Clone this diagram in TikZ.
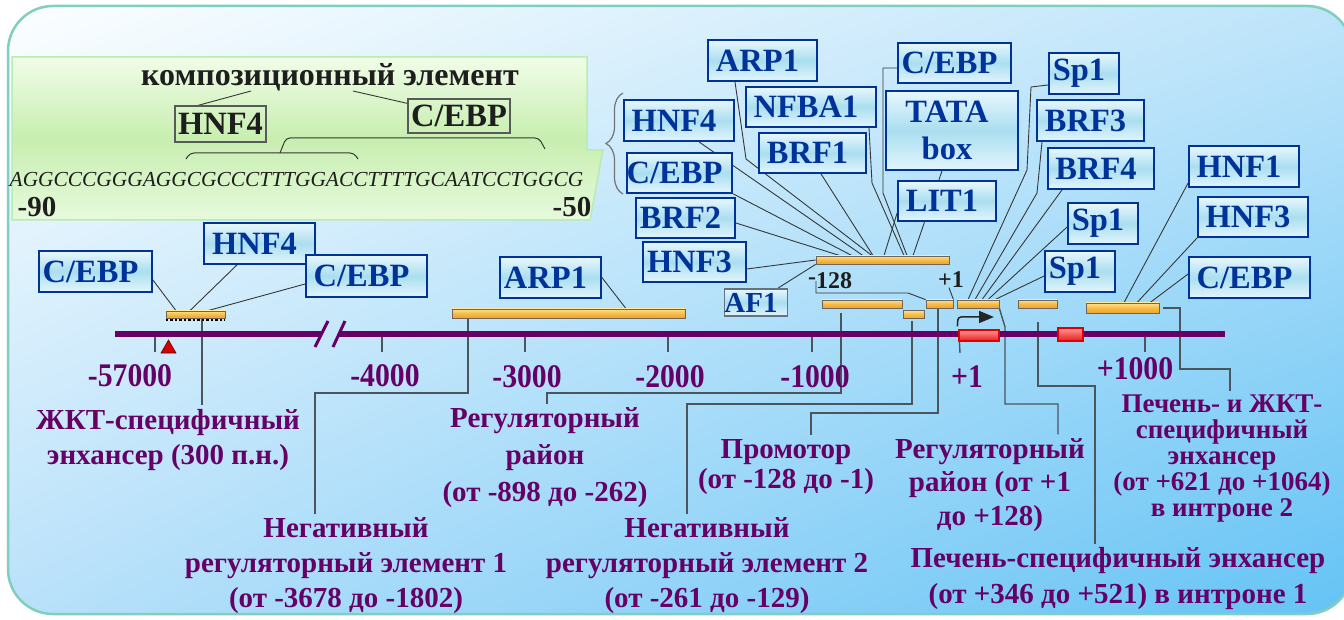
\documentclass[tikz,border=0pt]{standalone}
\usepackage{fontspec}
\setmainfont{Liberation Serif}
\newfontfamily\axfam[FakeStretch=0.9]{Liberation Serif}
\usetikzlibrary{arrows.meta,decorations.pathreplacing,shadings}
\definecolor{cblue}{RGB}{0,51,153}
\definecolor{lbtop}{RGB}{232,247,253}
\definecolor{lbmid}{RGB}{170,222,240}
\definecolor{lbbot}{RGB}{226,245,252}
\definecolor{cpurple}{RGB}{102,0,102}
\definecolor{bartop}{RGB}{253,226,140}
\definecolor{barmid}{RGB}{246,186,72}
\definecolor{barbot}{RGB}{236,165,45}
\definecolor{barline}{RGB}{110,100,90}
\definecolor{leadc}{RGB}{55,55,55}
\definecolor{connc}{RGB}{75,85,92}
\definecolor{framec}{RGB}{128,206,190}
\definecolor{gtop}{RGB}{240,253,232}
\definecolor{gmid}{RGB}{200,238,176}
\definecolor{gbot}{RGB}{230,250,220}
\definecolor{gline}{RGB}{184,236,176}
\definecolor{exred}{RGB}{228,30,30}
\definecolor{exlight}{RGB}{255,150,150}
\definecolor{exline}{RGB}{225,0,0}
\definecolor{txtdark}{RGB}{30,30,30}
\definecolor{bgUL}{RGB}{252,254,255}
\definecolor{bgUR}{RGB}{190,228,250}
\definecolor{bgLL}{RGB}{185,225,250}
\definecolor{bgLR}{RGB}{100,195,245}
\definecolor{trired}{RGB}{210,0,0}
\definecolor{af1line}{RGB}{100,115,130}
\newcommand\LabFont{\fontsize{32.5}{37}\selectfont\bfseries}
\newcommand\AxFont{\axfam\fontsize{33}{36}\selectfont\bfseries}
\pgfdeclarelayer{bglayer}
\pgfdeclarelayer{linelayer}
\pgfsetlayers{bglayer,linelayer,main}
\begin{document}
\begin{tikzpicture}[x=1pt,y=-1pt,
 lbl/.style={draw=cblue, line width=1.8pt, top color=lbtop, bottom color=lbbot, middle color=lbmid, text=cblue, font=\LabFont, inner sep=0pt, execute at end node={\kern10pt}},
 gbx/.style={draw=black!65, line width=1.2pt, text=txtdark, font=\LabFont, inner sep=0pt},
 orbar/.style={draw=barline, line width=0.8pt, top color=bartop, bottom color=barbot, middle color=barmid, inner sep=0pt},
 exbox/.style={draw=exline, line width=1.2pt, top color=exlight, bottom color=exred, inner sep=0pt},
 lead/.style={draw=leadc, line width=0.9pt},
 conn/.style={draw=connc, line width=1.4pt},
 tk/.style={draw=connc, line width=1.4pt},
 axisl/.style={draw=cpurple, line width=5.5pt},
 ptext/.style={text=cpurple, align=center, inner sep=0pt, outer sep=4pt},
 axlab/.style={text=cpurple, font=\AxFont, inner sep=0pt},
 num/.style={text=txtdark, font=\fontsize{29}{32}\selectfont\bfseries, inner sep=0pt},
 small/.style={text=txtdark, font=\fontsize{24}{28}\selectfont\bfseries, inner sep=0pt}
]
\useasboundingbox (0,0) rectangle (1344,620);
\begin{pgfonlayer}{bglayer}
 \shade[upper left=bgUL, upper right=bgUR, lower left=bgLL, lower right=bgLR, rounded corners=45pt] (8,6) rectangle (1352,614);
 \draw[framec, line width=2.5pt, rounded corners=45pt] (8,6) rectangle (1352,614);
 \shade[top color=gtop, bottom color=gbot, middle color=gmid] (12,57) -- (587,57) -- (587,150) -- (603,150) -- (590,220) -- (12,220) -- cycle;
 \draw[gline, line width=1.5pt] (12,57) -- (587,57) -- (587,150) -- (603,150) -- (590,220) -- (12,220) -- cycle;
\end{pgfonlayer}

% ---- green box content
\node[font=\fontsize{32}{36}\selectfont\bfseries, text=txtdark, inner sep=0pt] (comp) at (330,77) {композиционный элемент};
\node[gbx, minimum width=91pt, minimum height=36pt] (hnf4g) at (220.5,124) {HNF4};
\node[gbx, minimum width=102pt, minimum height=34pt] (cebpg) at (459,116) {C/EBP};
\node[font=\fontsize{21.4}{24}\selectfont\itshape, text=txtdark, inner sep=0pt] (seq) at (296.5,180) {AGGCCCGGGAGGCGCCCTTTGGACCTTTTGCAATCCTGGCG};
\node[num] (m90) at (37,207) {-90};
\node[num] (m50) at (572,207) {-50};
\draw[leadc, line width=1pt, rounded corners=4pt] (186,159) -- (190,153) -- (354,153) -- (358,159);
\draw[leadc, line width=1pt, rounded corners=4pt] (280,153) -- (286,138) -- (539,138) -- (545,149);
\draw[black!55, line width=1.2pt, decorate, decoration={brace, amplitude=17pt}] (623,194) -- (623,93);

% ---- axis
\draw[axisl] (115,334) -- (321.5,334);
\draw[axisl] (339,334) -- (1225,334);
\draw[cpurple, line width=3pt] (315,347) -- (328,321);
\draw[cpurple, line width=3pt] (333,347) -- (345,321);
\foreach \x in {155,382,525,668,812,1145} \draw[tk] (\x,337) -- (\x,352);
\fill[trired, draw=black!60!red, line width=0.6pt] (161,353) -- (176,353) -- (168.5,340) -- cycle;

\node[axlab] (a57) at (130,376) {-57000};
\node[axlab] (a4) at (385,376) {-4000};
\node[axlab] (a3) at (527,377) {-3000};
\node[axlab] (a2) at (670,377) {-2000};
\node[axlab] (a1) at (815,377) {-1000};
\node[axlab] (ap1) at (967,377) {+1};
\node[axlab] (ap1000) at (1135,369) {+1000};

% ---- exons and arrow
\node[exbox, minimum width=40pt, minimum height=11pt] (ex1) at (979,335.5) {};
\node[exbox, minimum width=25pt, minimum height=13pt] (ex2) at (1070.5,334.5) {};
\draw[tk] ([xshift=1pt]ex1.south west) -- (960,353);
\draw[black!85, line width=1.5pt, rounded corners=3pt, -{Triangle[length=15pt,width=12pt]}] ([xshift=-1pt,yshift=3pt]ex1.north west) -- (958,317) -- (994,317);

% ---- bars
\node[orbar, minimum width=133pt, minimum height=8pt] (barUp) at (882.5,260) {};
\node[orbar, minimum width=80pt, minimum height=8pt] (barA) at (862,304) {};
\node[orbar, minimum width=21pt, minimum height=8pt] (barB) at (913.5,314.5) {};
\node[orbar, minimum width=27pt, minimum height=8pt] (barC) at (939.5,304) {};
\node[orbar, minimum width=42pt, minimum height=8pt] (barD) at (978,304) {};
\node[orbar, minimum width=39pt, minimum height=8pt] (barE) at (1037.5,304) {};
\node[orbar, minimum width=73pt, minimum height=10pt] (barF) at (1122.5,308) {};
\node[orbar, minimum width=233pt, minimum height=9pt] (barArp) at (568.5,313.5) {};
\node[orbar, minimum width=59pt, minimum height=7pt] (barG) at (195.5,314.5) {};
\draw[black, line width=2pt, dash pattern=on 2.5pt off 2pt] ([yshift=-1.5pt]barG.south west) -- ([yshift=-1.5pt]barG.south east);

\node[small] (n128) at (830,281) {\raisebox{4pt}{-}128};
\node[small] (np1) at (951,279.5) {+1};

% ---- top cluster labels
\node[lbl, minimum width=109pt, minimum height=41pt] (arp1t) at (762.5,60.5) {ARP1};
\node[lbl, minimum width=130pt, minimum height=40pt] (nfba1) at (811,107) {NFBA1};
\node[lbl, minimum width=113pt, minimum height=40pt] (cebpt) at (954.5,63) {C/EBP};
\node[lbl, minimum width=132pt, minimum height=79pt, align=center, font=\fontsize{32.5}{37}\selectfont\bfseries, execute at end node={}] (tata) at (952,130.5) {TATA\\box};
\node[lbl, minimum width=110pt, minimum height=41pt] (hnf4t) at (679,120.5) {HNF4};
\node[lbl, minimum width=107pt, minimum height=40pt] (brf1) at (812.5,153) {BRF1};
\node[lbl, minimum width=105pt, minimum height=40pt] (cebpl) at (679.5,173) {C/EBP};
\node[lbl, minimum width=98pt, minimum height=40pt] (lit1) at (947,201) {LIT1};
\node[lbl, minimum width=99pt, minimum height=40pt] (brf2) at (685.5,218) {BRF2};
\node[lbl, minimum width=103pt, minimum height=40pt] (hnf3t) at (694.5,262) {HNF3};
\node[lbl, draw=af1line, minimum width=62pt, minimum height=27pt, font=\fontsize{29}{32}\selectfont\bfseries, execute at end node={}] (af1) at (756,302.5) {AF1};

% ---- right cluster labels
\node[lbl, minimum width=70pt, minimum height=41pt, execute at end node={}] (sp1a) at (1084,73.5) {Sp1};
\node[lbl, minimum width=107pt, minimum height=41pt] (brf3) at (1090.5,120.5) {BRF3};
\node[lbl, minimum width=106pt, minimum height=41pt] (brf4) at (1101,168.5) {BRF4};
\node[lbl, minimum width=110pt, minimum height=41pt] (hnf1) at (1244,166.5) {HNF1};
\node[lbl, minimum width=110pt, minimum height=40pt] (hnf3r) at (1253,217) {HNF3};
\node[lbl, minimum width=70pt, minimum height=41pt, execute at end node={}] (sp1b) at (1103,223.5) {Sp1};
\node[lbl, minimum width=70pt, minimum height=41pt, execute at end node={}] (sp1c) at (1080,271.5) {Sp1};
\node[lbl, minimum width=121pt, minimum height=41pt] (cebpr) at (1249.5,277.5) {C/EBP};

% ---- left cluster labels
\node[lbl, minimum width=113pt, minimum height=41pt, execute at end node={}] (cebpa) at (95.5,271.5) {C/EBP};
\node[lbl, minimum width=111pt, minimum height=41pt] (hnf4a) at (259.5,243.5) {HNF4};
\node[lbl, minimum width=121pt, minimum height=42pt] (cebpb) at (366.5,276) {C/EBP};
\node[lbl, minimum width=101pt, minimum height=41pt] (arp1b) at (550.5,277.5) {ARP1};

% ---- bottom labels
\node[ptext, font=\fontsize{29}{35}\selectfont\bfseries] (gkt) at (168,440) {ЖКТ-специфичный\\энхансер (300 п.н.)};
\node[ptext, font=\fontsize{29}{35}\selectfont\bfseries] (neg1) at (346,566) {Негативный\\регуляторный элемент 1\\(от -3678 до -1802)};
\node[ptext, font=\fontsize{29}{37}\selectfont\bfseries] (reg1) at (545,458) {Регуляторный\\район\\(от -898 до -262)};
\node[ptext, font=\fontsize{29}{35}\selectfont\bfseries] (neg2) at (707,566) {Негативный\\регуляторный элемент 2\\(от -261 до -129)};
\node[ptext, font=\fontsize{29}{30}\selectfont\bfseries] (prom) at (786,467) {Промотор\\(от -128 до -1)};
\node[ptext, font=\fontsize{29}{33.5}\selectfont\bfseries] (reg2) at (990,485) {Регуляторный\\район (от +1\\до +128)};
\node[ptext, font=\fontsize{29}{36}\selectfont\bfseries] (liv1) at (1118,579) {Печень-специфичный энхансер\\(от +346 до +521) в интроне 1};
\node[ptext, font=\fontsize{27}{26}\selectfont\bfseries] (liv2) at (1222,459) {Печень- и ЖКТ-\\специфичный\\энхансер\\(от +621 до +1064)\\в интроне 2};

% ---- connectors
\begin{pgfonlayer}{linelayer}
 \draw[lead] ([xshift=-79pt]comp.south) -- ([xshift=-22.5pt]hnf4g.north);
 \draw[lead] ([xshift=23pt]comp.south) -- ([yshift=-5pt]cebpg.north west);
 % top cluster
 \draw[lead] ([xshift=-27.5pt]arp1t.south) -- (746,159) -- ([xshift=-10.5pt]barUp.north);
 \draw[lead] ([xshift=20pt]hnf4t.south) -- ([xshift=-19.5pt]barUp.north);
 \draw[lead] (cebpl.south east) -- ([xshift=-30.5pt]barUp.north);
 \draw[lead] ([yshift=-5pt]brf2.east) -- ([xshift=-42.5pt]barUp.north);
 \draw[lead] ([yshift=-7pt]hnf3t.east) -- (barUp.west);
 \draw[lead] ([xshift=22pt]af1.north) -- (barUp.south west);
 \draw[lead] ([xshift=8.5pt]brf1.south) -- ([xshift=-9.5pt]barUp.north);
 \draw[lead] ([xshift=58pt]nfba1.south) -- (872,183) -- ([xshift=21.5pt]barUp.north);
 \draw[lead] ([yshift=-5pt]cebpt.west) -- (883,68) -- (883,193) -- ([xshift=24.5pt]barUp.north);
 \draw[lead] ([xshift=-10pt]tata.south) -- ([xshift=30.5pt]barUp.north);
 \draw[lead] ([yshift=-12pt]lit1.west) -- ([xshift=1.5pt]barUp.north);
 \coordinate (k1) at (816,293);
 \draw[lead] (n128.west -| k1) -- (k1) -- (908,293) -- (barC.north west);
 \draw[lead] ([xshift=-2pt]np1.south) -- (barC.north east);
 % right cluster
 \draw[lead] ([yshift=-11.5pt]sp1a.west) -- (1031,87) -- (1027,170) -- ([xshift=-10pt]barD.north);
 \draw[lead] ([xshift=-48.5pt]brf3.south) -- (1037,193) -- ([xshift=-3pt]barD.north);
 \draw[lead] ([xshift=-39pt]brf4.south) -- ([xshift=4pt]barD.north);
 \draw[lead] ([yshift=-3.5pt]sp1b.west) -- ([xshift=10pt]barD.north);
 \draw[lead] ([yshift=-4.5pt]sp1c.west) -- ([xshift=17pt]barD.north);
 \draw[lead] ([yshift=-16.5pt]hnf1.west) -- ([xshift=1.5pt]barF.north);
 \draw[lead] (hnf3r.south west) -- ([xshift=14.5pt]barF.north);
 \draw[lead] ([yshift=3.5pt]cebpr.west) -- ([xshift=27.5pt]barF.north);
 % left cluster
 \draw[lead] ([yshift=-8.5pt]cebpa.east) -- ([xshift=-19.5pt]barG.north);
 \draw[lead] ([xshift=-22.5pt]hnf4a.south) -- ([xshift=-5.5pt]barG.north);
 \draw[lead] ([yshift=-8pt]cebpb.west) -- ([xshift=12.5pt]barG.north);
 \draw[lead] (arp1b.east) -- ([xshift=57.5pt]barArp.north);
 % bottom connectors
 \coordinate (ga) at ([xshift=6.5pt]barG.south);
 \draw[conn] (ga) -- (ga |- gkt.north);
 \coordinate (n1a) at (315,393);
 \draw[conn] ([xshift=-100.5pt]barArp.south) |- (n1a) -- (n1a |- neg1.north);
 \coordinate (r1a) at (547,393);
 \draw[conn] ([xshift=-21pt,yshift=-5pt]barA.south) |- (r1a) -- (r1a |- reg1.north);
 \coordinate (n2a) at (687,404);
 \draw[conn] ([xshift=-1.5pt,yshift=-2pt]barB.south) |- (n2a) -- (n2a |- neg2.north);
 \coordinate (pa) at (811,413);
 \draw[conn] ([xshift=-1.5pt]barC.south) |- (pa) -- (pa |- prom.north);
 \coordinate (r2a) at (1005,327);
 \coordinate (r2b) at (1058,404);
 \draw[conn] (barD.south east) -- (r2a) |- (r2b) -- (r2b |- reg2.north);
 \coordinate (l1a) at (1095,386);
 \draw[conn] ([xshift=0.5pt,yshift=-14pt]barE.south) |- (l1a) -- (l1a |- liv1.north);
 \coordinate (l2a) at (1180,369);
 \coordinate (l2b) at (1230,369);
 \draw[conn] ([xshift=4pt]barF.east) -| (l2a) -- (l2b) -- (l2b |- liv2.north);
\end{pgfonlayer}
\end{tikzpicture}
\end{document}
